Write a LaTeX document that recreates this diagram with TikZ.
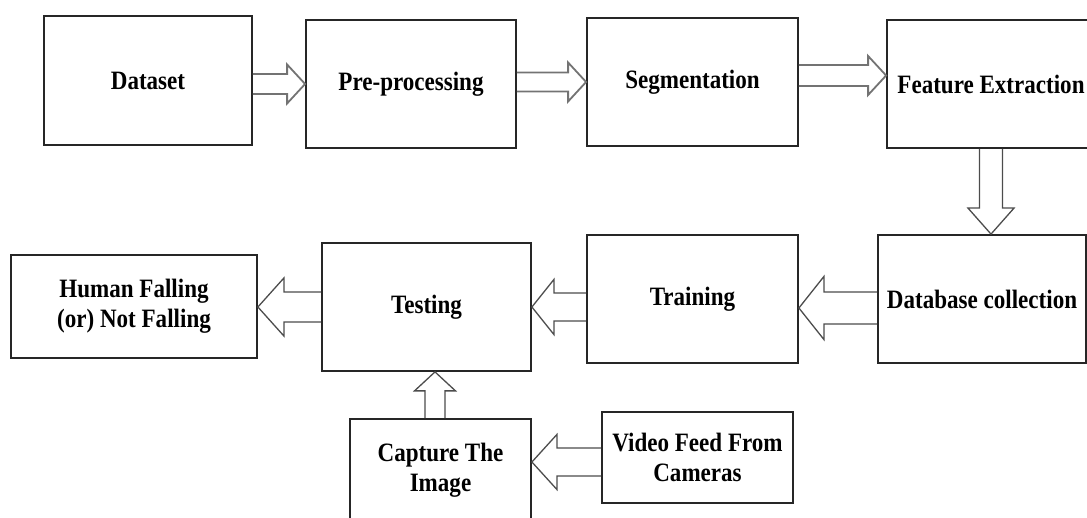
\documentclass[tikz,border=0pt]{standalone}
\usepackage{fontspec}
\usepackage{tikz}
\usetikzlibrary{calc}
\newfontfamily\boxfont{Liberation Serif}[FakeStretch=0.87]

\tikzset{
  stage/.style={draw=black!85, line width=1.8pt, align=center, inner sep=0pt,
    font=\boxfont\bfseries\fontsize{26.5}{30}\selectfont},
  % hollow block arrow: shaft half width, head half width, head length
  blockarrow/.style n args={3}{line join=miter, to path={
    ($(\tikztostart)!#1!90:(\tikztotarget)$)
    -- ($(\tikztotarget)!#3!(\tikztostart)!#1!90:(\tikztotarget)$)
    -- ($(\tikztotarget)!#3!(\tikztostart)!#2!90:(\tikztotarget)$)
    -- (\tikztotarget)
    -- ($(\tikztotarget)!#3!(\tikztostart)!#2!-90:(\tikztotarget)$)
    -- ($(\tikztotarget)!#3!(\tikztostart)!#1!-90:(\tikztotarget)$)
    -- ($(\tikztostart)!#1!-90:(\tikztotarget)$)}},
  toprow/.style={line width=1.8pt, draw=black!55},
  lowrow/.style={line width=1.3pt, draw=black!70}
}

\begin{document}
\begin{tikzpicture}[x=1pt,y=-1pt]
\useasboundingbox (0,0) rectangle (1087,518);
%\draw[help lines] (0,0) grid[step=50] (1087,518);
% first row
\node[stage, minimum width=208, minimum height=129] (ds) at (148,80.5) {Dataset};
\node[stage, minimum width=210, minimum height=128] (pp) at (411,84) {Pre-processing};
\node[stage, minimum width=211, minimum height=128] (sg) at (692.5,82) {Segmentation};
\node[stage, minimum width=208, minimum height=128] (fe) at (991,84) {Feature Extraction};
% second row
\node[stage, minimum width=208, minimum height=128] (db) at (982,299) {Database collection};
\node[stage, minimum width=211, minimum height=128] (tr) at (692.5,299) {Training};
\node[stage, minimum width=209, minimum height=128] (te) at (426.5,307) {Testing};
\node[stage, minimum width=246, minimum height=103] (hf) at (134,306.5) {Human Falling\\(or) Not Falling};
% third row
\node[stage, minimum width=181, minimum height=103] (cap) at (440.5,470.5) {Capture The\\Image};
\node[stage, minimum width=191, minimum height=91] (vf) at (697.5,457.5) {Video Feed From\\Cameras};

\coordinate (s1) at ($(sg.east)+(0,-6.5)$);
\coordinate (d1) at ($(db.west)+(0,9)$);
\coordinate (c1) at ($(cap.north)+(-5.5,0)$);
\coordinate (v1) at ($(vf.west)+(0,4.5)$);

\draw[toprow, blockarrow={10pt}{19.5pt}{18pt}] (ds.east |- pp.west) to (pp.west);
\draw[toprow, blockarrow={9.5pt}{19.5pt}{18pt}] (pp.east |- sg.west) to (sg.west);
\draw[toprow, blockarrow={10.5pt}{19.5pt}{18pt}] (s1) to (fe.west |- s1);
\draw[lowrow, blockarrow={11.5pt}{23pt}{26pt}] (fe.south) to (fe.south |- db.north);
\draw[lowrow, blockarrow={16pt}{31.5pt}{25pt}] (d1) to (tr.east |- d1);
\draw[lowrow, blockarrow={14pt}{27.5pt}{22pt}] (tr.west |- te.east) to (te.east);
\draw[lowrow, blockarrow={15pt}{29pt}{26pt}] (te.west) to (hf.east |- te.west);
\draw[lowrow, blockarrow={10pt}{20.5pt}{19pt}] (c1) to (te.south -| c1);
\draw[lowrow, blockarrow={14pt}{27.5pt}{25pt}] (v1) to (cap.east |- v1);
\end{tikzpicture}
\end{document}
